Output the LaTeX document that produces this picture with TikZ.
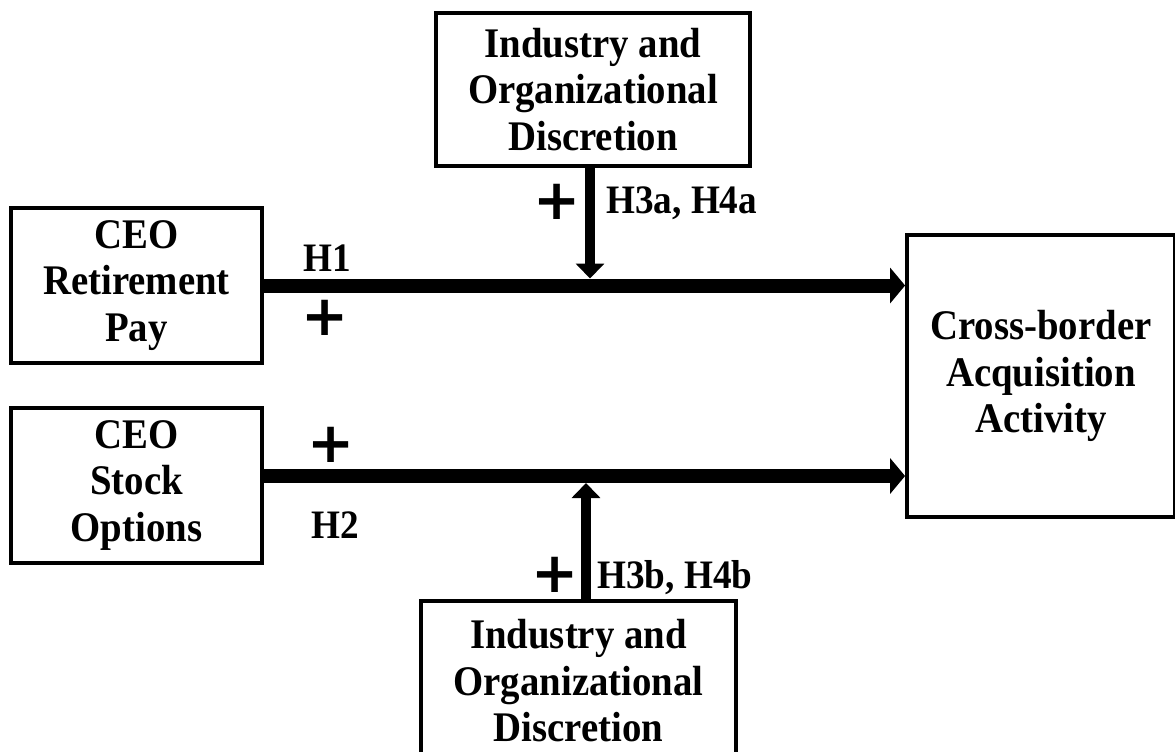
\documentclass[tikz,border=0pt]{standalone}
\usepackage{fontspec}
\setmainfont{Liberation Serif}
\newfontfamily\boxfont{Liberation Serif}[FakeStretch=0.92]
\newfontfamily\plusfont{DejaVu Sans}
\usetikzlibrary{arrows.meta}

\begin{document}
\begin{tikzpicture}[x=0.02cm, y=-0.02cm,
		box/.style={draw, line width=2.2pt, align=center, inner sep=0pt,
			font=\boxfont\bfseries\fontsize{24}{26.5}\selectfont},
		lab/.style={inner sep=0pt, font=\boxfont\bfseries\fontsize{23}{26}\selectfont},
		plus/.style={inner sep=0pt, font=\plusfont\bfseries\fontsize{32}{32}\selectfont},
		hbar/.style={line width=0.28cm, -{Triangle[width=0.7cm,length=0.3cm]}},
		vbar/.style={line width=0.2cm, -{Triangle[width=0.56cm,length=0.3cm]}}]
	\useasboundingbox (0,0) rectangle (1175,751);
	\node[box, minimum width=5.02cm, minimum height=3.1cm] (ret) at (136.5,285.5) {CEO\\Retirement\\Pay};
	\node[box, minimum width=5.02cm, minimum height=3.1cm] (opt) at (136.5,485.5) {CEO\\Stock\\Options};
	\node[box, minimum width=6.28cm, minimum height=3.06cm] (disctop) at (593,89.5) {Industry and\\Organizational\\Discretion};
	\node[box, minimum width=6.3cm, minimum height=3.2cm] (discbot) at (578.5,681) {Industry and\\Organizational\\Discretion};
	\node[box, minimum width=5.36cm, minimum height=5.64cm] (acq) at (1041,376) {Cross-border\\Acquisition\\Activity};
	\coordinate (h2) at ([yshift=0.19cm]opt.east);
	\draw[hbar] (ret.east) -- (acq.west |- ret.east);
	\draw[hbar] (h2) -- (acq.west |- h2);
	\draw[vbar, shorten >=0.14cm] ([xshift=-0.06cm]disctop.south) -- ([xshift=-0.06cm]disctop.south |- ret.east);
	\draw[vbar, shorten >=0.14cm] ([xshift=0.15cm]discbot.north) -- ([xshift=0.15cm]discbot.north |- h2);
	\node[lab] (h1) at (327,258) {H1};
	\node[plus] (p1) at (325,318) {+};
	\node[plus] (p2) at (331,445) {+};
	\node[lab] (h2lab) at (335,525) {H2};
	\node[plus] (p3) at (557,202) {+};
	\node[lab, anchor=west] (h34a) at (606,203) {H3a, H4a};
	\node[plus] (p4) at (555,575) {+};
	\node[lab, anchor=west] (h34b) at (597,578) {H3b, H4b};
\end{tikzpicture}
\end{document}
